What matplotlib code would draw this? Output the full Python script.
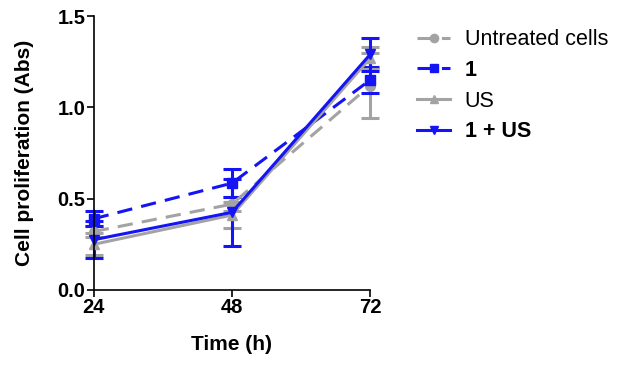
import numpy as np
import matplotlib.pyplot as plt

plt.rcParams['font.family'] = ['Liberation Sans', 'DejaVu Sans']

horas = [24, 48, 72]

sin_tratar = [0.32, 0.47, 1.12]
sin_tratar_err = [0.03, 0.04, 0.18]

comp1 = [0.39, 0.585, 1.15]
comp1_err = [0.04, 0.075, 0.07]

us = [0.25, 0.41, 1.27]
us_err = [0.06, 0.07, 0.06]

comp1_us = [0.275, 0.425, 1.29]
comp1_us_err = [0.10, 0.185, 0.09]

etiquetas = ['Untreated cells', '1', 'US', '1 + US']

gris = '#a3a3a3'
azul = '#1414f5'

fig = plt.figure(figsize=(6.21, 3.67), dpi=100)
ax = fig.add_axes([0.151, 0.21, 0.445, 0.746])

series = [
    (sin_tratar, sin_tratar_err, gris, '--', 'o', 7),
    (comp1, comp1_err, azul, '--', 's', 7),
    (us, us_err, gris, '-', '^', 7),
    (comp1_us, comp1_us_err, azul, '-', 'v', 7),
]

for (vals, err, col, ls, mk, ms), lab in zip(series, etiquetas):
    cont = ax.errorbar(horas, vals, yerr=err, color=col, linestyle=ls, marker=mk,
                       markersize=ms, linewidth=2.2, elinewidth=2.2, capsize=6.5,
                       capthick=2.2, dashes=(5, 3) if ls == '--' else (None, None),
                       label=lab, clip_on=False)
    for artist in cont.get_children():
        artist.set_clip_on(False)

ax.set_xlim(24, 72)
ax.set_ylim(0, 1.5)
ax.set_xticks(horas)
ax.set_yticks([0.0, 0.5, 1.0, 1.5])
ax.set_yticklabels(['0.0', '0.5', '1.0', '1.5'])
for s in ['top', 'right']:
    ax.spines[s].set_visible(False)
for s in ['left', 'bottom']:
    ax.spines[s].set_linewidth(1.2)
ax.tick_params(width=1.2, length=5, labelsize=14.5, pad=1)
for t in ax.get_xticklabels() + ax.get_yticklabels():
    t.set_fontweight('bold')

ax.set_xlabel('Time (h)', fontsize=15, fontweight='bold', labelpad=12.5)
ax.set_ylabel('Cell proliferation (Abs)', fontsize=15, fontweight='bold', labelpad=17)

handles, labels = ax.get_legend_handles_labels()
handles = [h[0] for h in handles]
leg = fig.legend(handles, labels, loc='upper left', bbox_to_anchor=(0.641, 0.973),
                 frameon=False, fontsize=15.5, handlelength=1.5, handletextpad=0.7,
                 labelspacing=0.45, markerscale=0.85)
for t in leg.get_texts():
    if t.get_text() in ('1', '1 + US'):
        t.set_fontweight('bold')

fig.savefig('out.png', dpi=100)
